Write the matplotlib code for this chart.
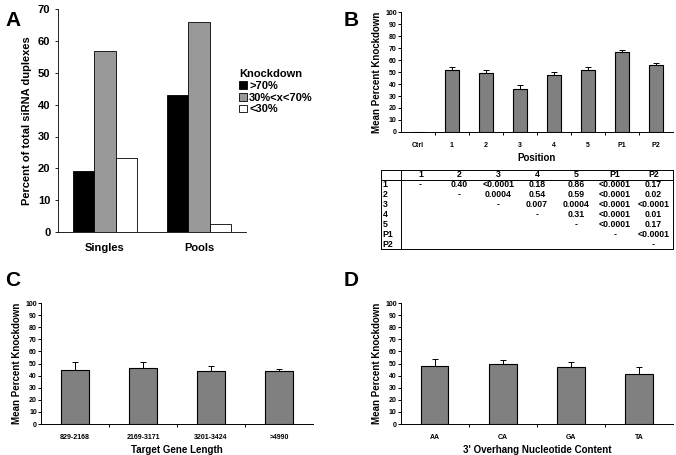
import matplotlib.pyplot as plt
import numpy as np

plt.rcParams['font.family'] = ['Liberation Sans', 'DejaVu Sans']
plt.rcParams['font.weight'] = 'bold'
plt.rcParams['axes.labelweight'] = 'bold'

# panel A
groups_a = ['Singles', 'Pools']
kd_labels = ['>70%', '30%<x<70%', '<30%']
kd_values = [[19.2, 43.0], [57.0, 66.0], [23.2, 2.5]]
kd_colors = ['black', '#999999', 'white']

# panel B
positions = ['Ctrl', '1', '2', '3', '4', '5', 'P1', 'P2']
pos_mean = [0, 52, 49.5, 36, 47.5, 51.5, 66.5, 56]
pos_err = [0, 2, 2.5, 3, 2.5, 2.5, 1.5, 1.5]

# p-value table under B
tab_cols = ['', '1', '2', '3', '4', '5', 'P1', 'P2']
tab_rows = [
    ['1', '-', '0.40', '<0.0001', '0.18', '0.86', '<0.0001', '0.17'],
    ['2', '', '-', '0.0004', '0.54', '0.59', '<0.0001', '0.02'],
    ['3', '', '', '-', '0.007', '0.0004', '<0.0001', '<0.0001'],
    ['4', '', '', '', '-', '0.31', '<0.0001', '0.01'],
    ['5', '', '', '', '', '-', '<0.0001', '0.17'],
    ['P1', '', '', '', '', '', '-', '<0.0001'],
    ['P2', '', '', '', '', '', '', '-'],
]

# panel C
lengths = ['829-2168', '2169-3171', '3201-3424', '>4990']
len_mean = [45, 46, 44, 43.5]
len_err = [6, 5, 4, 2]

# panel D
overhangs = ['AA', 'CA', 'GA', 'TA']
ovh_mean = [48, 49.5, 47, 41.5]
ovh_err = [5.5, 3, 4.5, 6]

fig = plt.figure(figsize=(6.76, 4.55), dpi=100)


def small_bars(ax, cats, means, errs, xlabel, width):
    x = np.arange(len(cats))
    ax.bar(x, means, width=width, color='#808080', edgecolor='black', linewidth=0.8)
    ax.errorbar(x, means, yerr=[np.zeros(len(errs)), errs], fmt='none', ecolor='black',
                elinewidth=0.7, capsize=2, capthick=0.7)
    ax.set_xlim(-0.5, len(cats) - 0.5)
    ax.set_ylim(0, 100)
    ax.set_yticks(range(0, 101, 10))
    ax.tick_params(axis='y', labelsize=5, length=2, width=0.7, pad=1)
    ax.set_xticks(x)
    ax.set_xticklabels(cats)
    ax.set_xticks(np.arange(0.5, len(cats) - 0.5), minor=True)
    ax.tick_params(axis='x', which='major', length=0, labelsize=5, pad=7)
    ax.tick_params(axis='x', which='minor', length=2.5, width=0.7, direction='out')
    ax.set_xlabel(xlabel, fontsize=7, labelpad=3)
    ax.set_ylabel('Mean Percent Knockdown', fontsize=7, labelpad=2)
    for s in ['top', 'right']:
        ax.spines[s].set_visible(False)
    for s in ['left', 'bottom']:
        ax.spines[s].set_linewidth(0.7)


# A
axA = fig.add_axes([0.0858, 0.490, 0.2782, 0.490])
xa = np.array([0.0, 1.0])
w = 0.225
for i in range(3):
    axA.bar(xa + (i - 1) * w, kd_values[i], width=w, color=kd_colors[i],
            edgecolor='black', linewidth=0.6, label=kd_labels[i])
axA.set_xlim(-0.5, 1.5)
axA.set_ylim(0, 70)
axA.set_yticks(range(0, 71, 10))
axA.set_xticks(xa)
axA.set_xticklabels(groups_a)
axA.tick_params(axis='x', length=0, labelsize=8, pad=8)
axA.tick_params(axis='y', labelsize=8, length=2, width=0.6)
axA.set_ylabel('Percent of total siRNA duplexes', fontsize=8, labelpad=4)
for s in ['top', 'right']:
    axA.spines[s].set_visible(False)
for s in ['left', 'bottom']:
    axA.spines[s].set_linewidth(0.6)
leg = axA.legend(title='Knockdown', loc='upper left', bbox_to_anchor=(0.94, 0.75), frameon=False,
                 fontsize=8, title_fontsize=8, handlelength=0.7, handleheight=0.7,
                 handletextpad=0.2, labelspacing=0.15, borderaxespad=0)
leg._legend_box.align = 'left'
fig.text(0.008, 0.975, 'A', fontsize=15, fontweight='bold', va='top')

# B
axB = fig.add_axes([0.593, 0.7099, 0.4026, 0.2637])
small_bars(axB, positions, pos_mean, pos_err, 'Position', 0.42)
fig.text(0.508, 0.975, 'B', fontsize=15, fontweight='bold', va='top')

# table
axT = fig.add_axes([0.5636, 0.4527, 0.432, 0.1737])
axT.axis('off')
widths = [0.069] + [(1 - 0.069) / 7] * 7
tbl = axT.table(cellText=tab_rows, colLabels=tab_cols, colWidths=widths,
                cellLoc='center', bbox=[0, 0, 1, 1])
tbl.auto_set_font_size(False)
tbl.set_fontsize(6.3)
for (r, c), cell in tbl.get_celld().items():
    cell.set_linewidth(0)
    cell.get_text().set_fontweight('bold')
    if c == 0:
        cell.get_text().set_ha('left')
        cell.PAD = 0.08
axT.plot([0, 1, 1, 0, 0], [0, 0, 1, 1, 0], color='black', lw=0.7, transform=axT.transAxes, clip_on=False)
axT.plot([0.069, 0.069], [0, 1], color='black', lw=0.7, transform=axT.transAxes, clip_on=False)
axT.plot([0, 1], [1 - 1 / 8, 1 - 1 / 8], color='black', lw=0.7, transform=axT.transAxes, clip_on=False)

# C
axC = fig.add_axes([0.0607, 0.0681, 0.4024, 0.2659])
small_bars(axC, lengths, len_mean, len_err, 'Target Gene Length', 0.4)
fig.text(0.008, 0.405, 'C', fontsize=15, fontweight='bold', va='top')

# D
axD = fig.add_axes([0.593, 0.0681, 0.4026, 0.2659])
small_bars(axD, overhangs, ovh_mean, ovh_err, "3' Overhang Nucleotide Content", 0.4)
fig.text(0.508, 0.405, 'D', fontsize=15, fontweight='bold', va='top')

fig.savefig('out.png', dpi=100)
